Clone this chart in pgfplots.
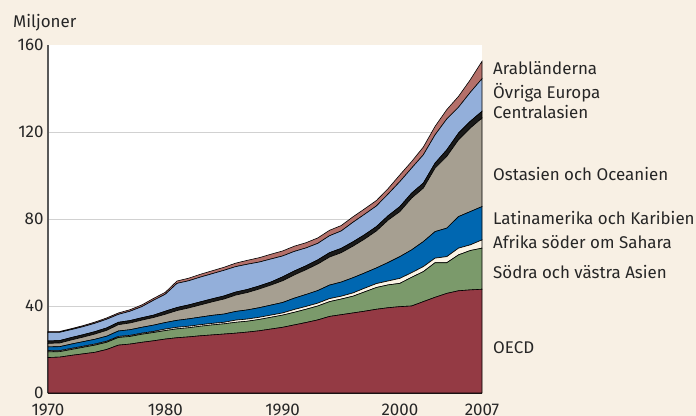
\documentclass[border=0pt]{standalone}
\usepackage{pgfplots}
\pgfplotsset{compat=1.18}
\usepackage{pgfplotstable}
\usepackage{fontspec}
\setmainfont{Fira Sans}
\definecolor{bgc}{HTML}{F8F0E4}
\definecolor{coecd}{HTML}{943A44}
\definecolor{csva}{HTML}{7B9A6B}
\definecolor{cafr}{HTML}{FBF4E6}
\definecolor{clat}{HTML}{0067B1}
\definecolor{cost}{HTML}{A69F91}
\definecolor{ccen}{HTML}{1A1A1A}
\definecolor{ceur}{HTML}{93AFDA}
\definecolor{carab}{HTML}{B4706A}
\pgfplotstableread{
year oecd sva afr lat ost cen eur arab
1970 16.3 2.6 0.5 1.8 1.6 1.1 4.0 0.4
1971 16.5 2.5 0.5 1.8 1.7 1.1 3.8 0.4
1972 17.3 2.7 0.5 2.0 1.9 1.1 3.65 0.45
1973 18.0 3.0 0.5 2.1 2.1 1.1 3.7 0.5
1974 18.7 3.3 0.5 2.2 2.4 1.1 3.85 0.55
1975 20.0 3.3 0.5 2.3 2.7 1.1 4.0 0.6
1976 22.0 3.5 0.5 2.5 2.9 1.1 3.65 0.65
1977 22.5 3.5 0.5 2.6 3.1 1.1 4.3 0.7
1978 23.3 3.7 0.5 2.7 3.3 1.1 5.1 0.8
1979 24.0 3.8 0.5 2.9 3.5 1.1 6.85 0.85
1980 24.8 3.9 0.7 3.0 3.8 1.4 7.8 0.9
1981 25.4 4.1 0.7 3.2 4.5 1.4 11.1 1.1
1982 25.8 4.2 0.7 3.4 5.0 1.4 11.1 1.2
1983 26.3 4.4 0.7 3.5 5.6 1.4 11.4 1.3
1984 26.7 4.6 0.7 3.7 6.2 1.4 11.55 1.35
1985 27.1 4.7 0.7 3.8 6.9 1.4 11.8 1.4
1986 27.5 5.0 1.0 4.0 7.5 1.4 11.7 1.6
1987 28.0 5.0 1.0 4.2 8.0 1.4 11.6 1.8
1988 28.6 5.2 1.0 4.4 8.6 1.4 11.0 2.0
1989 29.4 5.4 1.0 4.6 9.2 1.4 10.6 2.2
1990 30.2 5.6 1.0 4.8 10.0 1.8 9.6 2.3
1991 31.3 5.8 1.3 5.2 10.7 1.8 9.0 2.4
1992 32.4 6.1 1.3 5.5 11.4 1.8 8.2 2.4
1993 33.6 6.4 1.3 5.8 12.2 1.9 7.6 2.5
1994 35.2 6.8 1.4 6.2 12.9 2.0 7.8 2.5
1995 36.0 7.2 1.3 6.5 13.5 2.0 8.0 2.5
1996 36.8 7.7 1.5 7.0 14.5 2.0 9.0 2.5
1997 37.6 8.9 1.7 7.0 15.6 2.0 9.4 2.5
1998 38.5 10.0 1.8 7.2 17.0 2.0 9.5 2.5
1999 39.2 10.5 1.8 8.5 19.5 2.0 10.0 2.5
2000 39.7 10.7 2.3 10.0 20.7 2.3 11.5 3.1
2001 40.0 13.2 2.1 10.5 23.8 2.3 11.5 3.0
2002 42.0 13.8 2.3 11.5 24.6 2.3 13.0 3.6
2003 44.0 15.9 2.1 12.2 29.2 2.3 13.0 3.9
2004 45.8 14.1 2.8 13.1 33.0 3.0 14.2 4.3
2005 47.0 16.5 3.1 14.5 35.3 3.1 11.9 5.0
2006 47.4 18.1 2.6 15.3 38.4 3.1 13.3 5.8
2007 47.7 18.9 3.8 15.3 40.7 3.1 15.0 8.0
}\chartdata
\tikzset{lbl/.style={anchor=mid west, font=\fontsize{17}{20}\selectfont, inner sep=0pt, text=black!85, yshift=-3.5bp}}
\begin{document}
\begin{tikzpicture}
\fill[bgc] (-48bp,-23bp) rectangle (648bp,393bp);
\useasboundingbox (-48bp,-23bp) rectangle (648bp,393bp);
\begin{axis}[
  at={(0,0)}, anchor=south west,
  width=434bp, height=348bp, scale only axis,
  xmin=1970, xmax=2007, ymin=0, ymax=160,
  axis background/.style={fill=white},
  axis line style={draw=none},
  xtick={1970,1980,1990,2000,2007},
  ytick={0,40,80,120,160},
  extra y ticks={40,80,120},
  extra y tick labels={},
  extra y tick style={grid=major},
  major grid style={draw=black!18, line width=0.9bp},
  major tick length=0pt,
  /pgf/number format/assume math mode=true,
  xticklabel style={/pgf/number format/1000 sep={}, font=\fontsize{17}{20}\selectfont, text=black!85, yshift=-7bp},
  yticklabel style={font=\fontsize{17}{20}\selectfont, text=black!85, xshift=-1bp},
  stack plots=y,
  clip=false,
]
\addplot[fill=coecd, draw=black, line width=0.6bp] table[x=year,y=oecd]{\chartdata} \closedcycle;
\addplot[fill=csva, draw=black, line width=0.6bp] table[x=year,y=sva]{\chartdata} \closedcycle;
\addplot[fill=cafr, draw=black, line width=0.6bp] table[x=year,y=afr]{\chartdata} \closedcycle;
\addplot[fill=clat, draw=black, line width=0.6bp] table[x=year,y=lat]{\chartdata} \closedcycle;
\addplot[fill=cost, draw=black, line width=0.6bp] table[x=year,y=ost]{\chartdata} \closedcycle;
\addplot[fill=ccen, draw=black, line width=0.6bp] table[x=year,y=cen]{\chartdata} \closedcycle;
\addplot[fill=ceur, draw=black, line width=0.6bp] table[x=year,y=eur]{\chartdata} \closedcycle;
\addplot[fill=carab, draw=black, line width=0.6bp] table[x=year,y=arab]{\chartdata} \closedcycle;
\draw[black!65, line width=1.6bp] (rel axis cs:0,0) -- (rel axis cs:0,1);
\draw[black!90, line width=1.6bp] (rel axis cs:0,0) -- (rel axis cs:1,0);
\node[lbl] at ([xshift=11bp]axis cs:2007,149.1) {Arabländerna};
\node[lbl] at ([xshift=11bp]axis cs:2007,138.1) {Övriga Europa};
\node[lbl] at ([xshift=11bp]axis cs:2007,128.9) {Centralasien};
\node[lbl] at ([xshift=11bp]axis cs:2007,100.3) {Ostasien och Oceanien};
\node[lbl] at ([xshift=11bp]axis cs:2007,80.5) {Latinamerika och Karibien};
\node[lbl] at ([xshift=11bp]axis cs:2007,69.4) {Afrika söder om Sahara};
\node[lbl] at ([xshift=11bp]axis cs:2007,55.6) {Södra och västra Asien};
\node[lbl] at ([xshift=11bp]axis cs:2007,21.1) {OECD};
\node[lbl] at ([xshift=-35bp,yshift=23.5bp]rel axis cs:0,1) {Miljoner};
\end{axis}
\end{tikzpicture}
\end{document}
